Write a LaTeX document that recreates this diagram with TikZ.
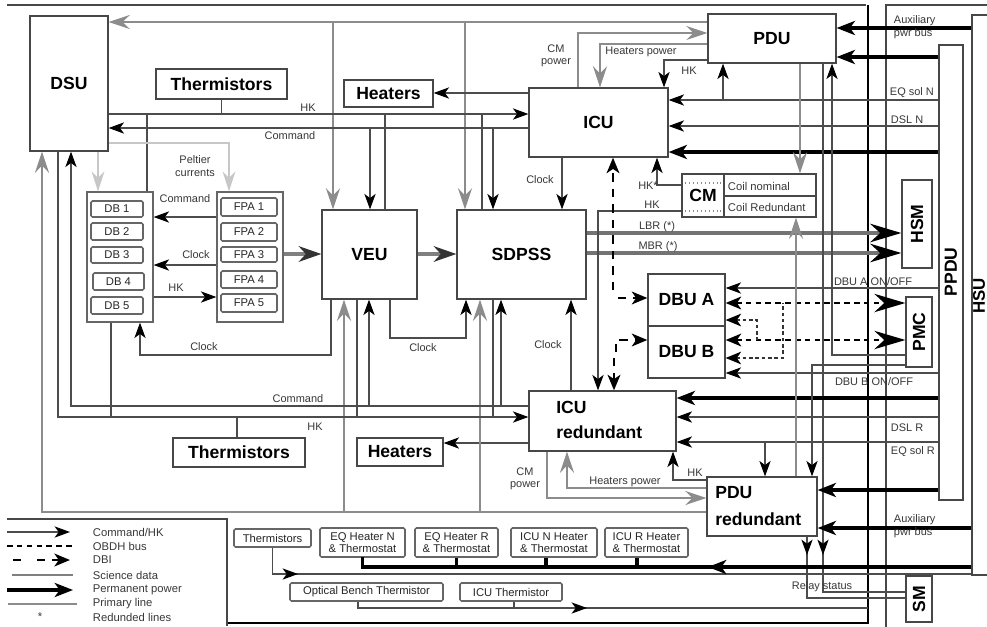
\documentclass[tikz,border=0pt]{standalone}
\usepackage{fontspec}
\setmainfont{Liberation Sans}
\usetikzlibrary{arrows.meta}
\newlength\uu \setlength\uu{0.025cm}
\newcommand\bigf{\fontsize{12.5}{14}\selectfont\bfseries}
\newcommand\smf{\fontsize{7.8}{8.8}\selectfont}
\newcommand\bxf{\fontsize{8}{9}\selectfont}
\newcommand\BX[7][]{\node[box,#1,minimum width={(#5-#3)*\uu},minimum height={(#6-#4)*\uu}] (#2) at ({(#3+#5)/2},{(#4+#6)/2}) {#7};}
\tikzset{
  box/.style={draw=black!72, line width=0.9pt, inner sep=0pt, fill=white, font=\bigf},
  sbox/.style={draw=black!60, line width=1.1pt, font=\bxf, align=center, rounded corners=1pt, text=black!85},
  lab/.style={font=\smf, text=black!78, inner sep=0.5pt},
  ln/.style={draw=black!70, line width=0.9pt},
  ar/.style={ln, -{Stealth[length=11pt,width=8pt,inset=3pt,color=black]}},
  pw/.style={draw=black, line width=2.2pt, -{Stealth[length=13pt,width=10pt,inset=3.5pt]}},
  pwl/.style={draw=black, line width=2.2pt},
  pg/.style={draw=black!45, line width=1.5pt, -{Stealth[length=15pt,width=10pt,inset=5pt]}},
  pgl/.style={draw=black!45, line width=1.5pt},
  pl/.style={draw=black!22, line width=1.5pt, -{Stealth[length=14pt,width=9pt,inset=4.5pt]}},
  sd/.style={draw=black!50, line width=3pt, -{Stealth[length=16pt,width=11pt,inset=5pt,color=black!80]}},
  sdb/.style={draw=black!55, line width=3.2pt, -{Stealth[length=22pt,width=13pt,inset=7pt,color=black]}},
  ob/.style={draw=black, line width=2pt, dash pattern=on 4pt off 3pt},
  obs/.style={draw=black!80, line width=1pt, dash pattern=on 2.5pt off 2pt},
  dbi/.style={draw=black, line width=2pt, dash pattern=on 6pt off 5pt},
  tipS/.style={-{Stealth[length=11pt,width=9pt,inset=3pt,color=black]}},
  tipB/.style={-{Stealth[length=22pt,width=13pt,inset=7pt,color=black]}},
}
\begin{document}
\begin{tikzpicture}[x=0.025cm,y=-0.025cm]
\fill[white] (0,0) rectangle (987,626);
\useasboundingbox (0,0) rectangle (987,626);

% ---------- boxes ----------
\BX{DSU}{30}{16}{108}{151}{DSU}
\BX{THt}{156}{69}{287}{99}{Thermistors}
\BX{HTt}{344}{80}{433}{107}{Heaters}
\BX{ICU}{529}{88}{668}{157}{ICU}
\BX{PDU}{708}{14}{836}{63}{PDU}
\BX[draw=black!60]{DBG}{87}{192}{153}{322}{}
\BX[draw=black!60]{FPG}{217}{192}{283}{322}{}
\BX[sbox]{DB1}{91}{201}{143}{217}{DB 1}
\BX[sbox]{DB2}{91}{223}{143}{240}{DB 2}
\BX[sbox]{DB3}{91}{247}{143}{263}{DB 3}
\BX[sbox]{DB4}{93}{273}{144}{290}{DB 4}
\BX[sbox]{DB5}{91}{297}{143}{314}{DB 5}
\BX[sbox]{FPA1}{221}{198}{277}{216}{FPA 1}
\BX[sbox]{FPA2}{221}{223}{277}{241}{FPA 2}
\BX[sbox]{FPA3}{221}{247}{277}{262}{FPA 3}
\BX[sbox]{FPA4}{221}{271}{277}{288}{FPA 4}
\BX[sbox]{FPA5}{221}{294}{277}{312}{FPA 5}
\BX{VEU}{322}{210}{417}{299}{VEU}
\BX{SDPSS}{457}{210}{586}{299}{SDPSS}
\BX{CM}{682}{174}{724}{217}{CM}
\BX{COIL}{724}{174}{816}{217}{}
\BX{HSM}{902}{180}{932}{268}{}
\BX{PMC}{906}{297}{932}{367}{}
\BX{PPDU}{939}{45}{963}{500}{}
\BX{HSU}{972}{15}{1002}{575}{}
\BX{SM}{906}{576}{932}{622}{}
\BX{DBUA}{648}{274}{725}{326}{DBU A}
\BX{DBUB}{648}{326}{725}{378}{DBU B}
\BX{ICUR}{529}{391}{676}{451}{}
\BX{PDUR}{707}{477}{817}{536}{}
\BX{THb}{173}{438}{305}{467}{Thermistors}
\BX{HTb}{357}{438}{443}{466}{Heaters}
\BX[sbox]{THs}{234}{529}{311}{547}{Thermistors}
\BX[sbox]{EQN}{320}{528}{405}{557}{EQ Heater N\\\& Thermostat}
\BX[sbox]{EQR}{415}{528}{498}{557}{EQ Heater R\\\& Thermostat}
\BX[sbox]{ICN}{511}{528}{597}{557}{ICU N Heater\\\& Thermostat}
\BX[sbox]{ICRH}{605}{528}{688}{557}{ICU R Heater\\\& Thermostat}
\BX[sbox]{OBT}{290}{583}{443}{601}{Optical Bench Thermistor}
\BX[sbox]{ICT}{460}{583}{562}{601}{ICU Thermistor}

% box texts
\node[font=\fontsize{12.5}{17.5}\selectfont\bfseries, anchor=west, align=left, inner sep=0pt] (ICURt) at (556,420) {ICU\\redundant};
\node[font=\fontsize{12.5}{19}\selectfont\bfseries, anchor=west, align=left, inner sep=0pt] (PDURt) at (715,506) {PDU\\redundant};
\node[font=\bigf, rotate=90] (HSMt) at (HSM.center) {HSM};
\node[font=\bigf, rotate=90] (PMCt) at (PMC.center) {PMC};
\node[font=\bigf, rotate=90] (PPDUt) at (951,272) {PPDU};
\node[font=\fontsize{12}{14}\selectfont\bfseries, rotate=90, inner sep=0pt] (HSUt) at (979,296) {HSU};
\node[font=\bigf, rotate=90] (SMt) at (SM.center) {SM};
\draw[black!72, line width=0.9pt] (COIL.west |- 0,196) -- (COIL.east |- 0,196);
\node[lab, font=\bxf, anchor=west] (cn) at (727,186) {Coil nominal};
\node[lab, font=\bxf, anchor=west] (cr) at (727,207) {Coil Redundant};
\draw[black!45, line width=0.8pt, dotted] (685,183) -- (721,183);
\draw[black!45, line width=0.8pt, dotted] (685,211) -- (721,211);

% ---------- frame ----------
\draw[black!72, line width=1.2pt] (7,5) -- (866,5);
\draw[black, line width=1.8pt] (868,5) -- (868,623) -- (227,623);
\draw[black!72, line width=1pt] (7,519) -- (227,519) -- (227,626);
\draw[black!72, line width=1pt] (886,630) -- (886,5) -- (995,5);

% ---------- top: DSU / ICU ----------
\draw[pg] (PDU.west |- 0,22) -- (DSU.east |- 0,22);
\draw[pg] (333,22) -- (333,0 |- VEU.north);
\draw[pg] (465,22) -- (465,0 |- SDPSS.north);
\draw[pg] (578,0 |- ICU.north) -- (578,33) -- (PDU.west |- 0,33);
\draw[pg] (PDU.west |- 0,44) -- (600,44) -- (600,0 |- ICU.north);
\draw[ar] (PDU.west |- 0,60) -- (664,60) -- (664,0 |- ICU.north);
\draw[ar] (ICU.west |- 0,93) -- (HTt.east |- 0,93);
\draw[ar] (DSU.east |- 0,114) -- (ICU.west |- 0,114);
\draw[ln] (147,0 |- DBG.north) -- (147,114);
\draw[ln] (THt.south) -- (THt.south |- 0,114);
\draw[ln] (385,0 |- VEU.north) -- (385,114);
\draw[ln] (482,0 |- SDPSS.north) -- (482,114);
\draw[ar] (ICU.west |- 0,128) -- (DSU.east |- 0,128);
\draw[ar] (370,128) -- (370,0 |- VEU.north);
\draw[ar] (493,128) -- (493,0 |- SDPSS.north);
\draw[pl] (98,0 |- DSU.south) -- (98,0 |- DBG.north);
\draw[pl] (DSU.east |- 0,143) -- (229,143) -- (229,0 |- FPG.north);
\draw[ar] (562,0 |- ICU.south) -- (562,0 |- SDPSS.north);

% DB / FPA / VEU / SDPSS
\draw[ar] (FPG.west |- 0,217) -- (DBG.east |- 0,217);
\draw[ar] (FPG.west |- 0,265) -- (DBG.east |- 0,265);
\draw[ar] (DBG.east |- 0,297) -- (FPG.west |- 0,297);
\draw[sd] (FPG.east |- 0,254) -- (VEU.west |- 0,254);
\draw[sd] (VEU.east |- 0,254) -- (SDPSS.west |- 0,254);
\draw[ar] (331,0 |- VEU.south) -- (331,355) -- (140,355) -- (140,0 |- DBG.south);
\draw[ar] (390,0 |- VEU.south) -- (390,338) -- (466,338) -- (466,0 |- SDPSS.south);
\draw[sdb] (SDPSS.east |- 0,233) -- (HSM.west |- 0,233);
\draw[sdb] (SDPSS.east |- 0,253) -- (HSM.west |- 0,253);

% ICU right side
\draw[ar] (PPDU.west |- 0,100) -- (ICU.east |- 0,100);
\draw[ar] (723,100) -- (723,0 |- PDU.south);
\draw[ar] (PPDU.west |- 0,126) -- (ICU.east |- 0,126);
\draw[pw] (PPDU.west |- 0,152) -- (ICU.east |- 0,152);
\draw[pw] (PPDU.west |- 0,57) -- (PDU.east |- 0,57);
\draw[pw] (HSU.west |- 0,28) -- (PDU.east |- 0,28);
\draw[pg] (800,0 |- PDU.south) -- (800,0 |- COIL.north);
\draw[ar] (PMC.west |- 0,355) -- (832,355) -- (832,0 |- PDU.south);
\draw[ln] (823,0 |- PDU.south) -- (823,592) -- (SM.west |- 0,592);
\draw[ar] (823,530) -- (823,555);

% CM / DBI
\draw[ar] (CM.west |- 0,185) -- (657,185) -- (657,0 |- ICU.south);
\draw[ar] (CM.west |- 0,211) -- (598,211) -- (598,0 |- ICUR.north);
\draw[dbi, tipS] (613,290) -- (613,0 |- ICU.south);
\draw[dbi, tipS] (618,298) -- (DBUA.west |- 0,298);
\draw[dbi, tipS] (616,352) -- (616,340) -- (DBUB.west |- 0,340);
\draw[dbi, tipS] (614,358) -- (614,0 |- ICUR.north);

% DBU right side
\draw[ar] (PPDU.west |- 0,288) -- (DBUA.east |- 0,288);
\draw[ar] (PPDU.west |- 0,373) -- (DBUB.east |- 0,373);
\draw[ob, {Stealth[length=11pt,width=9pt,inset=3pt]}-{Stealth[length=22pt,width=13pt,inset=7pt]}] (DBUA.east |- 0,303) -- (PMC.west |- 0,303);
\draw[ob, {Stealth[length=11pt,width=9pt,inset=3pt]}-{Stealth[length=22pt,width=13pt,inset=7pt]}] (DBUB.east |- 0,340) -- (PMC.west |- 0,340);
\draw[obs, {Stealth[length=11pt,width=9pt,inset=3pt,color=black]}-] (DBUA.east |- 0,320) -- (757,320) -- (757,340);
\draw[obs, {Stealth[length=11pt,width=9pt,inset=3pt,color=black]}-] (DBUB.east |- 0,358) -- (783,358) -- (783,303);

% ICU redundant
\draw[pw] (PPDU.west |- 0,398) -- (ICUR.east |- 0,398);
\draw[ar] (PPDU.west |- 0,417) -- (ICUR.east |- 0,417);
\draw[ar] (PPDU.west |- 0,442) -- (ICUR.east |- 0,442);
\draw[ar] (765,442) -- (765,0 |- PDUR.north);
\draw[ar] (PMC.west |- 0,365) -- (812,365) -- (812,0 |- PDUR.north);
\draw[pg] (796,0 |- PDUR.north) -- (796,0 |- COIL.south);
\draw[pw] (PPDU.west |- 0,490) -- (PDUR.east |- 0,490);
\draw[pw] (HSU.west |- 0,528) -- (PDUR.east |- 0,528);
\draw[ar] (PDUR.west |- 0,480) -- (673,480) -- (673,0 |- ICUR.south);
\draw[pg] (PDUR.west |- 0,488) -- (567,488) -- (567,0 |- ICUR.south);
\draw[pg] (547,0 |- ICUR.south) -- (547,498) -- (PDUR.west |- 0,498);
\draw[ln] (807,0 |- PDUR.south) -- (807,598) -- (SM.west |- 0,598);
\draw[ar] (807,540) -- (807,555);
\draw[ar] (571,0 |- ICUR.north) -- (571,0 |- SDPSS.south);
\draw[ar] (ICUR.west |- 0,443) -- (HTb.east |- 0,443);

% bottom loops
\draw[pg] (PDUR.west |- 0,512) -- (42,512) -- (42,0 |- DSU.south);
\draw[pg] (344,512) -- (344,0 |- VEU.south);
\draw[pg] (480,512) -- (480,0 |- SDPSS.south);
\draw[ar] (ICUR.west |- 0,406) -- (71,406) -- (71,0 |- DSU.south);
\draw[ar] (369,406) -- (369,0 |- VEU.south);
\draw[ar] (501,406) -- (501,0 |- SDPSS.south);
\draw[ar] (58,0 |- DSU.south) -- (58,417) -- (ICUR.west |- 0,417);
\draw[ln] (111,0 |- DBG.south) -- (111,417);
\draw[ln] (237,0 |- THb.north) -- (237,417);
\draw[ln] (357,0 |- VEU.south) -- (357,417);
\draw[ln] (493,0 |- SDPSS.south) -- (493,417);

% bottom strip
\draw[ln] (THs.south) |- (HSU.west |- 0,574);
\draw[ar] (276,574) -- (298,574);
\draw[pwl] (EQN.south |- 0,557) -- (EQN.south |- 0,567) -- (HSU.west |- 0,567);
\draw[pwl] (EQR.south) -- (EQR.south |- 0,567);
\draw[pwl] (546,0 |- ICN.south) -- (546,567);
\draw[pwl] (637,0 |- ICRH.south) -- (637,567);
\draw[pw] (735,567) -- (708,567);
\coordinate (obend) at (868,608);
\draw[ln] (358,0 |- OBT.south) -- (358,608) -- (obend);
\draw[ln] (514,0 |- ICT.south) -- (514,608);
\draw[ar] (565,608) -- (587,608);

% ---------- labels ----------
\node[lab, align=center] (l1) at (195,166) {Peltier\\currents};
\node[lab] (l2) at (185,199) {Command};
\node[lab] (l3) at (196,255) {Clock};
\node[lab] (l4) at (176,288) {HK};
\node[lab] (l5) at (204,347) {Clock};
\node[lab] (l6) at (298,399) {Command};
\node[lab] (l7) at (315,427) {HK};
\node[lab] (l8) at (308,108) {HK};
\node[lab] (l9) at (290,136) {Command};
\node[lab] (l10) at (540,180) {Clock};
\node[lab] (l11) at (423,348) {Clock};
\node[lab] (l12) at (548,345) {Clock};
\node[lab, align=center] (l13) at (556,56) {CM\\power};
\node[lab] (l14) at (641,52) {Heaters power};
\node[lab] (l15) at (689,71) {HK};
\node[lab] (l16) at (648,186) {HK*};
\node[lab] (l17) at (652,205) {HK};
\node[lab] (l18) at (657,227) {LBR (*)};
\node[lab] (l19) at (658,247) {MBR (*)};
\node[lab] (l20) at (873,282) {DBU A ON/OFF};
\node[lab] (l21) at (874,382) {DBU B ON/OFF};
\node[lab, anchor=west] (l22) at (889,93) {EQ sol N};
\node[lab, anchor=west] (l23) at (890,120) {DSL N};
\node[lab, anchor=west] (l24) at (890,428) {DSL R};
\node[lab, anchor=west] (l25) at (890,452) {EQ sol R};
\node[lab, anchor=west, align=left] (l26) at (893,27) {Auxiliary\\pwr bus};
\node[lab, anchor=west, align=left] (l27) at (893,526) {Auxiliary\\pwr bus};
\node[lab] (l28) at (695,473) {HK};
\node[lab, align=center] (l29) at (525,479) {CM\\power};
\node[lab] (l30) at (625,482) {Heaters power};
\node[lab] (l31) at (822,587) {Relay status};

% ---------- legend ----------
\draw[ar] (7,532) -- (70,532);
\draw[ob] (7,546) -- (73,546);
\draw[dbi] (13,560) -- (28,560);
\draw[dbi, tipS] (37,560) -- (70,560);
\draw[draw=black!50, line width=2pt] (12,575) -- (73,575);
\draw[pw] (7,590) -- (73,590);
\draw[pgl] (8,604) -- (77,604);
\node[lab, font=\bxf, inner sep=0pt] (st) at (40,617) {*};
\node[lab, font=\bxf, anchor=west] (g1) at (92,532) {Command/HK};
\node[lab, font=\bxf, anchor=west] (g2) at (92,546) {OBDH bus};
\node[lab, font=\bxf, anchor=west] (g3) at (92,560) {DBI};
\node[lab, font=\bxf, anchor=west] (g4) at (92,575) {Science data};
\node[lab, font=\bxf, anchor=west] (g5) at (92,590) {Permanent power};
\node[lab, font=\bxf, anchor=west] (g6) at (92,604) {Primary line};
\node[lab, font=\bxf, anchor=west] (g7) at (92,617) {Redunded lines};
\end{tikzpicture}
\end{document}
